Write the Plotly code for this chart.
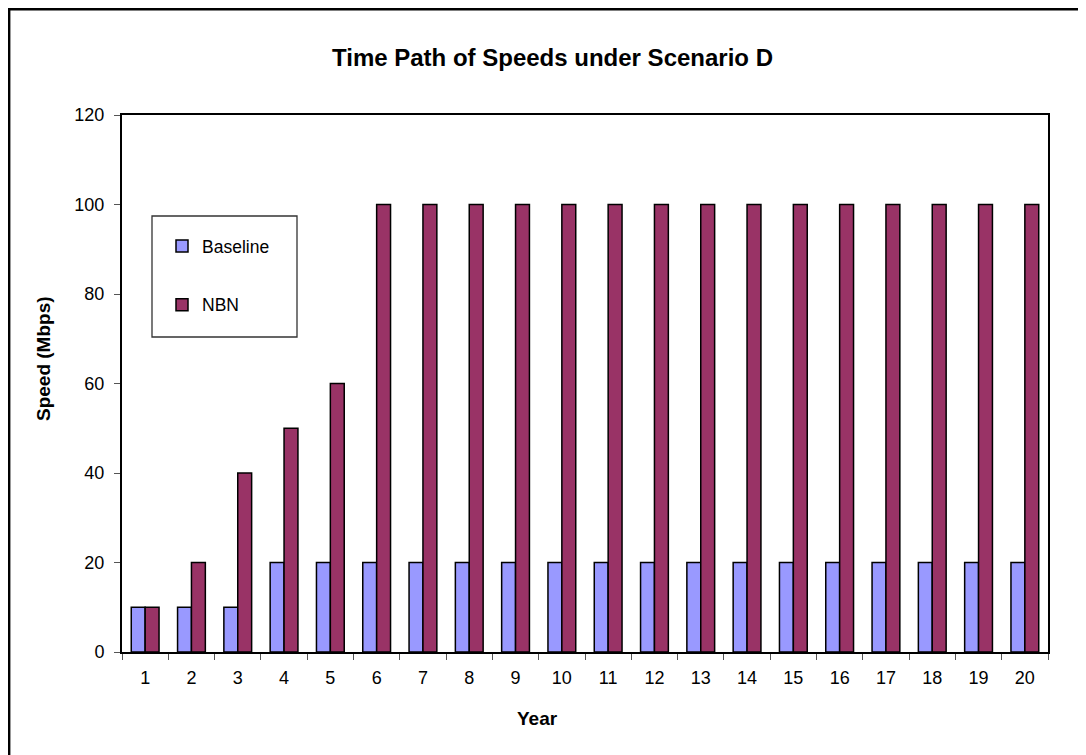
import plotly.graph_objects as go

years = [str(i) for i in range(1, 21)]
baseline = [10, 10, 10, 20, 20, 20, 20, 20, 20, 20, 20, 20, 20, 20, 20, 20, 20, 20, 20, 20]
nbn = [10, 20, 40, 50, 60, 100, 100, 100, 100, 100, 100, 100, 100, 100, 100, 100, 100, 100, 100, 100]
y_ticks = [0, 20, 40, 60, 80, 100, 120]

OFF = 8  # page body margin
W, H = 1086, 755
# plot area in screenshot pixels: left 122, right 1048, top 115, bottom 652
ML, MT = 122 - OFF, 115 - OFF
MR = W - (1048 - OFF)
MB = H - (652 - OFF)
PW, PH = W - ML - MR, H - MT - MB

def px_x(p):  # screenshot px -> paper
    return (p - OFF - ML) / PW

def px_y(p):
    return (H - MB - (p - OFF)) / PH

FONT = "Liberation Sans, Arial, sans-serif"

fig = go.Figure()
fig.add_trace(go.Bar(x=years, y=baseline, name="Baseline", legendgroup="a",
                     marker=dict(color="#9999FF", line=dict(color="black", width=1.5))))
fig.add_trace(go.Bar(x=years, y=nbn, name="NBN", legendgroup="b",
                     marker=dict(color="#993366", line=dict(color="black", width=1.5))))

fig.update_layout(
    width=W, height=H,
    margin=dict(l=ML, r=MR, t=MT, b=MB),
    paper_bgcolor="white", plot_bgcolor="white",
    barmode="group", bargap=0.4, bargroupgap=0,
    font=dict(family=FONT, size=18, color="black"),
    title=dict(text="<b>Time Path of Speeds under Scenario D</b>",
               xref="container", yref="container",
               x=(552.5 - OFF) / W, xanchor="center",
               y=1 - (58 - OFF) / H, yanchor="middle",
               font=dict(family=FONT, size=24, color="black")),
    showlegend=True,
    legend=dict(x=px_x(162), y=px_y(228), xanchor="left", yanchor="top",
                bgcolor="rgba(0,0,0,0)", borderwidth=0, tracegroupgap=33,
                font=dict(family=FONT, size=17.5, color="black")),
    xaxis=dict(type="category", tickson="boundaries", ticks="outside", ticklen=6,
               tickcolor="#555", showline=True, linecolor="black", linewidth=2, mirror=True,
               showgrid=False, tickfont=dict(size=18), ticklabelstandoff=8),
    yaxis=dict(range=[0, 120], tickvals=y_ticks, ticks="outside", ticklen=6, tickcolor="#555",
               showline=True, linecolor="black", linewidth=2, mirror=True, showgrid=False,
               zeroline=False, tickfont=dict(size=18), ticklabelstandoff=6),
    annotations=[
        dict(text="<b>Year</b>", xref="paper", yref="paper", x=px_x(537), y=px_y(718),
             xanchor="center", yanchor="middle", showarrow=False,
             font=dict(family=FONT, size=19, color="black")),
        dict(text="<b>Speed (Mbps)</b>", xref="paper", yref="paper", x=px_x(43), y=px_y(359),
             xanchor="center", yanchor="middle", showarrow=False, textangle=-90,
             font=dict(family=FONT, size=19, color="black")),
    ],
    shapes=[
        dict(type="rect", xref="paper", yref="paper",
             x0=px_x(152), x1=px_x(297), y0=px_y(337), y1=px_y(216),
             line=dict(color="#333", width=1.3), fillcolor="rgba(0,0,0,0)", layer="below"),
        dict(type="rect", xref="paper", yref="paper",
             x0=px_x(9.2), x1=px_x(1110), y0=px_y(790), y1=px_y(9.2),
             line=dict(color="black", width=2.4), fillcolor="rgba(0,0,0,0)", layer="below"),
    ],
)

fig.write_html("out.html")
